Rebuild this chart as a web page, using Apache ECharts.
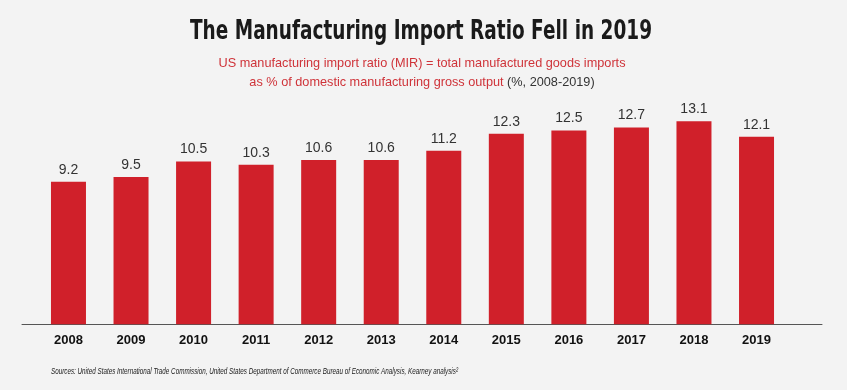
<!DOCTYPE html>
<html><head><meta charset="utf-8">
<script src="https://cdn.jsdelivr.net/npm/echarts@6/dist/echarts.min.js"></script>
<style>html,body{margin:0;padding:0;background:#f3f3f3}#c{width:847px;height:390px}</style>
</head><body><div id="c"></div>
<script>
var years = ['2008','2009','2010','2011','2012','2013','2014','2015','2016','2017','2018','2019'];
var mirValues = [9.2, 9.5, 10.5, 10.3, 10.6, 10.6, 11.2, 12.3, 12.5, 12.7, 13.1, 12.1];
var titleText = 'The Manufacturing Import Ratio Fell in 2019';
var subLine1 = 'US manufacturing import ratio (MIR) = total manufactured goods imports';
var subLine2a = 'as % of domestic manufacturing gross output';
var subLine2b = ' (%, 2008-2019)';
var sourceText = 'Sources: United States International Trade Commission, United States Department of Commerce Bureau of Economic Analysis, Kearney analysis\u00B2';

function textWidth(txt, font) {
  var c = document.createElement('canvas').getContext('2d');
  c.font = font;
  return c.measureText(txt).width;
}
var titleFont = 'bold 27px "DejaVu Sans"';
var titleScale = 462 / textWidth(titleText, titleFont);
var srcFont = 'italic 9.5px "Liberation Sans"';
var srcScale = 407 / textWidth(sourceText, srcFont);
var subFont = '13px "Liberation Sans"';
var subScale = 407 / textWidth(subLine1, subFont);

var chart = echarts.init(document.getElementById('c'));
chart.setOption({
  backgroundColor: '#f3f3f3',
  animation: false,
  graphic: [{
    type: 'text', x: 421, y: 32, scaleX: titleScale,
    style: {text: titleText, font: titleFont, fill: '#1a1a1a', textAlign: 'center', textVerticalAlign: 'middle'}
  }, {
    type: 'text', x: 422, y: 63, scaleX: subScale,
    style: {text: subLine1, font: subFont, fill: '#cf3339', textAlign: 'center', textVerticalAlign: 'middle'}
  }, {
    type: 'text', x: 422, y: 82, scaleX: subScale,
    style: {
      text: '{r|' + subLine2a + '}{g|' + subLine2b + '}', textAlign: 'center', textVerticalAlign: 'middle',
      rich: {
        r: {font: subFont, fill: '#cf3339'},
        g: {font: subFont, fill: '#333333'}
      }
    }
  }, {
    type: 'text', x: 51, y: 371, scaleX: srcScale,
    style: {text: sourceText, font: srcFont, fill: '#222', textAlign: 'left', textVerticalAlign: 'middle'}
  }],
  grid: [
    {left: 37.2, right: 59.2, top: 107.3, bottom: 65.7},
    {left: 22, right: 25, top: 107.3, bottom: 65.7}
  ],
  xAxis: [{
    type: 'category', data: years, gridIndex: 0,
    axisLine: {show: false}, axisTick: {show: false},
    axisLabel: {fontFamily: 'Liberation Sans, Arial, sans-serif', fontWeight: 'bold', fontSize: 13, color: '#111', margin: 10}
  }, {
    type: 'category', data: [''], gridIndex: 1,
    axisLine: {show: true, lineStyle: {color: '#555', width: 1}}, axisTick: {show: false}, axisLabel: {show: false}
  }],
  yAxis: [{
    type: 'value', min: 0, max: 14, gridIndex: 0, show: false, splitLine: {show: false}
  }, {
    type: 'value', min: 0, max: 14, gridIndex: 1, show: false, splitLine: {show: false}
  }],
  series: [{
    type: 'bar', data: mirValues, barWidth: 35,
    itemStyle: {color: '#d0202a'},
    label: {show: true, position: 'top', distance: 5, fontFamily: 'Liberation Sans, Arial, sans-serif', fontSize: 14, color: '#333',
      formatter: function(p){ return p.value.toFixed(1); }}
  }]
});
</script></body></html>
